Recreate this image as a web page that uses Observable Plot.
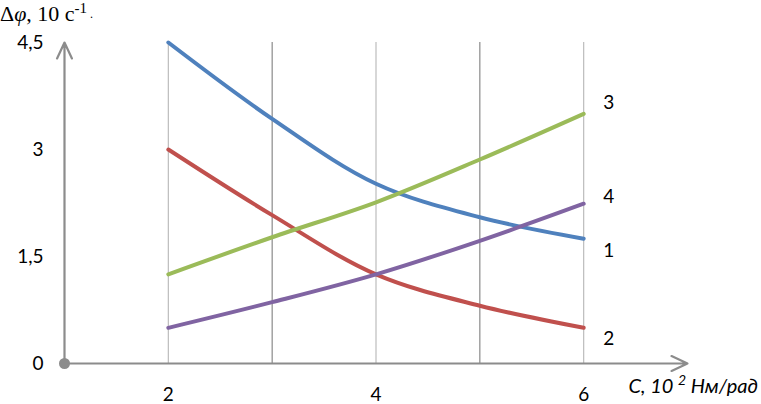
<!DOCTYPE html>
<html>
<head>
<meta charset="utf-8">
<script src="https://cdn.jsdelivr.net/npm/d3@7"></script>
<script src="https://cdn.jsdelivr.net/npm/@observablehq/plot@0.6"></script>
<style>
  html, body { margin: 0; padding: 0; background: #fff; }
  #chart { width: 761px; height: 404px; }
</style>
</head>
<body>
<div id="chart"></div>
<script>
// Data
const C = [2, 3, 4, 5, 6];
const series1 = [4.5, 3.43, 2.52, 2.05, 1.75];
const series2 = [3.0, 2.08, 1.25, 0.81, 0.5];
const series3 = [1.25, 1.77, 2.26, 2.86, 3.5];
const series4 = [0.5, 0.86, 1.25, 1.72, 2.24];
const seriesNames = ["1", "2", "3", "4"];
const xTicks = [2, 4, 6];
const yTicks = [0, 1.5, 3, 4.5];
const yTickLabels = ["0", "1,5", "3", "4,5"];
const gridX = [2, 3, 4, 5, 6];

const colors = {"1": "#4f81bd", "2": "#c0504d", "3": "#9bbb59", "4": "#8064a2"};
const allSeries = [series1, series2, series3, series4];
const rows = allSeries.flatMap((s, i) => C.map((c, j) => ({c, v: s[j], name: seriesNames[i]})));
const ends = allSeries.map((s, i) => ({c: C[C.length - 1], v: s[s.length - 1], name: seriesNames[i]}));
const labelDy = {"1": 12, "2": 11, "3": -11, "4": -7};

const tickFont = "Lato, 'Open Sans', sans-serif";

const labelMarks = seriesNames.map(n =>
  Plot.text(ends.filter(d => d.name === n), {x: "c", y: "v", text: "name", dx: 25, dy: labelDy[n], fontSize: 19, fontFamily: tickFont, fill: "#000", textAnchor: "middle"})
);

const plot = Plot.plot({
  width: 761,
  height: 404,
  marginLeft: 64,
  marginRight: 74,
  marginTop: 42,
  marginBottom: 41,
  x: {domain: [1, 7], axis: null},
  y: {domain: [0, 4.5], axis: null},
  style: {background: "#fff"},
  marks: [
    Plot.ruleX(gridX, {x: d => d, y1: 0, y2: 4.5, stroke: d => d % 2 ? "#8a8a8a" : "#bcbcbc", strokeWidth: 1.2}),
    Plot.arrow([{x1: 1, y1: 0, x2: 7, y2: 0}], {x1: "x1", y1: "y1", x2: "x2", y2: "y2", stroke: "#8c8c8c", strokeWidth: 2.2, headLength: 12, headAngle: 50}),
    Plot.arrow([{x1: 1, y1: 0, x2: 1, y2: 4.5}], {x1: "x1", y1: "y1", x2: "x2", y2: "y2", stroke: "#8c8c8c", strokeWidth: 2.2, headLength: 12, headAngle: 50}),
    Plot.dot([{x: 1, y: 0}], {x: "x", y: "y", r: 5.5, fill: "#8c8c8c", stroke: "none"}),
    Plot.line(rows, {x: "c", y: "v", z: "name", stroke: d => colors[d.name], strokeWidth: 4, curve: "catmull-rom"}),
    ...labelMarks,
    Plot.text(yTicks, {x: 1, y: d => d, text: (d, i) => yTickLabels[i], dx: -21, textAnchor: "end", fontSize: 19, fontFamily: tickFont, fill: "#000"}),
    Plot.text(xTicks, {x: d => d, y: 0, text: d => String(d), dy: 31, fontSize: 19, fontFamily: tickFont, fill: "#000"})
  ]
});
document.getElementById("chart").appendChild(plot);

const svg = d3.select(plot);

// Title
const title = svg.append("text")
  .attr("x", 0).attr("y", 21)
  .attr("text-anchor", "start")
  .attr("font-family", "'Liberation Serif', 'DejaVu Serif', serif")
  .attr("font-size", 22)
  .attr("fill", "#000");
title.append("tspan").text("Δ");
title.append("tspan").attr("font-style", "italic").text("φ");
title.append("tspan").text(", 10 с");
title.append("tspan").attr("font-size", 15).attr("dy", -8).text("-1");
title.append("tspan").attr("font-size", 12).attr("dy", 5).text(" .");

// X axis label
const xl = svg.append("text")
  .attr("x", 758).attr("y", 393)
  .attr("text-anchor", "end")
  .attr("font-family", tickFont)
  .attr("font-style", "italic")
  .attr("font-size", 20)
  .attr("fill", "#000");
xl.append("tspan").text("C, 10 ");
xl.append("tspan").attr("font-size", 14).attr("dy", -8).text("2");
xl.append("tspan").attr("dy", 8).text(" Нм/рад");
</script>
</body>
</html>
